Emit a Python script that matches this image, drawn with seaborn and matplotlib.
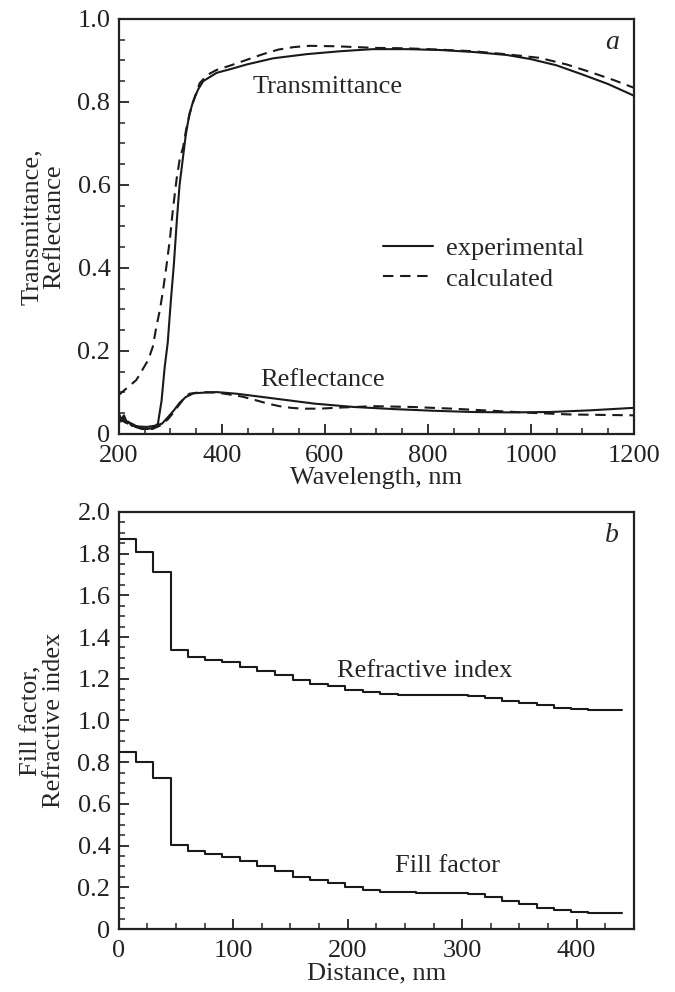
import numpy as np
import pandas as pd
import matplotlib
matplotlib.use("Agg")
import matplotlib.pyplot as plt
from matplotlib.ticker import MultipleLocator, FuncFormatter
from matplotlib.lines import Line2D
import seaborn as sns

# ---------------- data: panel a ----------------
t_exp_wl = [200, 205, 210, 215, 225, 240, 255, 268, 276, 283, 289, 295, 301, 307, 313, 318,
            324, 330, 337, 344, 354, 364, 377, 390, 420, 448, 500, 565, 630, 693, 760, 823,
            890, 953, 1000, 1050, 1100, 1150, 1200]
t_exp_val = [0.05, 0.035, 0.045, 0.03, 0.025, 0.015, 0.012, 0.015, 0.025, 0.08, 0.16, 0.22,
             0.32, 0.41, 0.52, 0.60, 0.66, 0.72, 0.77, 0.80, 0.83, 0.85, 0.86, 0.87, 0.88,
             0.89, 0.905, 0.915, 0.922, 0.927, 0.927, 0.925, 0.92, 0.913, 0.903, 0.888,
             0.866, 0.843, 0.815]

t_calc_wl = [200, 215, 234, 257, 266, 273, 280, 286, 292, 299, 305, 312, 318, 325, 331, 338,
             347, 357, 372, 390, 420, 450, 480, 510, 540, 570, 620, 700, 759, 820, 887, 950,
             1017, 1070, 1115, 1160, 1200]
t_calc_val = [0.094, 0.11, 0.13, 0.178, 0.21, 0.259, 0.30, 0.347, 0.40, 0.467, 0.54, 0.612,
              0.66, 0.692, 0.735, 0.773, 0.81, 0.845, 0.865, 0.877, 0.889, 0.902, 0.915,
              0.926, 0.932, 0.935, 0.934, 0.93, 0.929, 0.926, 0.922, 0.915, 0.906, 0.89,
              0.872, 0.853, 0.834]

r_exp_wl = [200, 204, 208, 212, 218, 225, 240, 255, 270, 284, 295, 307, 318, 330, 345, 370,
            390, 429, 467, 505, 581, 657, 734, 810, 886, 962, 1038, 1115, 1200]
r_exp_val = [0.045, 0.03, 0.04, 0.028, 0.03, 0.02, 0.018, 0.017, 0.02, 0.025, 0.04, 0.057,
             0.075, 0.089, 0.098, 0.10, 0.101, 0.097, 0.091, 0.085, 0.073, 0.065, 0.060,
             0.056, 0.053, 0.052, 0.053, 0.057, 0.063]

r_calc_wl = [200, 210, 225, 245, 265, 280, 295, 305, 314, 325, 337, 360, 385, 406, 440, 467,
             490, 512, 535, 558, 590, 619, 695, 772, 848, 924, 1000, 1077, 1200]
r_calc_val = [0.035, 0.03, 0.02, 0.012, 0.012, 0.02, 0.035, 0.05, 0.065, 0.083, 0.097, 0.101,
              0.10, 0.097, 0.09, 0.081, 0.073, 0.067, 0.063, 0.061, 0.061, 0.063, 0.067,
              0.065, 0.061, 0.056, 0.051, 0.047, 0.045]

# ---------------- data: panel b ----------------
layer_edges = [0, 15, 30, 45.5, 60.5, 75.5, 90.5, 105.5, 121, 136.5, 152, 167, 182.5, 198,
               213, 228.5, 244, 259.5, 274.5, 290, 305, 320, 335, 350, 365, 380, 395, 410,
               425, 440]
refr_index = [1.872, 1.808, 1.712, 1.338, 1.304, 1.289, 1.278, 1.258, 1.238, 1.218, 1.192,
              1.177, 1.165, 1.148, 1.134, 1.128, 1.124, 1.123, 1.122, 1.121, 1.117, 1.107,
              1.091, 1.082, 1.072, 1.062, 1.054, 1.051, 1.050]
fill_factor = [0.85, 0.80, 0.726, 0.404, 0.372, 0.359, 0.346, 0.325, 0.304, 0.279, 0.251,
               0.233, 0.222, 0.201, 0.185, 0.179, 0.176, 0.172, 0.171, 0.171, 0.166, 0.153,
               0.132, 0.118, 0.101, 0.089, 0.082, 0.079, 0.077]

# ---------------- style ----------------
sns.set_theme(style="ticks")
plt.rcParams["font.family"] = ["Liberation Serif", "DejaVu Serif"]
FS = 19
plt.rcParams.update({
    "font.size": FS,
    "axes.linewidth": 1.6,
    "xtick.direction": "in",
    "ytick.direction": "in",
    "xtick.major.size": 7,
    "ytick.major.size": 7,
    "xtick.minor.size": 4,
    "ytick.minor.size": 4,
    "xtick.major.width": 1.3,
    "ytick.major.width": 1.3,
    "xtick.minor.width": 1.1,
    "ytick.minor.width": 1.1,
    "xtick.major.pad": 8,
    "ytick.major.pad": 6,
    "xtick.color": "#222222",
    "ytick.color": "#222222",
    "axes.edgecolor": "#222222",
})

fig = plt.figure(figsize=(6.75, 9.92), dpi=100)
left, width = 0.176, 0.763
ax1 = fig.add_axes([left, 0.5625, width, 0.4185])
ax2 = fig.add_axes([left, 0.0635, width, 0.4205])

LC = "#1a1a1a"
LW = 1.5
DASH = (0, (5, 3.2))

def yfmt(v, pos):
    if abs(v) < 1e-9:
        return "0"
    return f"{v:.1f}"

# panel a
sns.lineplot(x=t_exp_wl, y=t_exp_val, ax=ax1, color=LC, lw=LW, estimator=None, sort=False)
sns.lineplot(x=t_calc_wl, y=t_calc_val, ax=ax1, color=LC, lw=LW, linestyle=DASH,
             estimator=None, sort=False)
sns.lineplot(x=r_exp_wl, y=r_exp_val, ax=ax1, color=LC, lw=LW, estimator=None, sort=False)
sns.lineplot(x=r_calc_wl, y=r_calc_val, ax=ax1, color=LC, lw=LW, linestyle=DASH,
             estimator=None, sort=False)

ax1.set_xlim(200, 1200)
ax1.set_ylim(0, 1.0)
ax1.xaxis.set_major_locator(MultipleLocator(200))
ax1.xaxis.set_minor_locator(MultipleLocator(50))
ax1.yaxis.set_major_locator(MultipleLocator(0.2))
ax1.yaxis.set_minor_locator(MultipleLocator(0.05))
ax1.yaxis.set_major_formatter(FuncFormatter(yfmt))
ax1.set_xlabel("Wavelength, nm", fontsize=FS, labelpad=0)
ax1.set_ylabel("Transmittance,\nReflectance", fontsize=FS, labelpad=9, linespacing=1.0)
ax1.text(605, 0.836, "Transmittance", fontsize=FS, ha="center", va="center")
ax1.text(596, 0.129, "Reflectance", fontsize=FS, ha="center", va="center")
ax1.text(1158, 0.942, "a", fontsize=FS + 1, style="italic", ha="center", va="center")

handles = [Line2D([], [], color=LC, lw=LW),
           Line2D([], [], color=LC, lw=LW, linestyle=DASH)]
ax1.legend(handles, ["experimental", "calculated"], frameon=False, loc="center left",
           bbox_to_anchor=(0.487, 0.41), fontsize=FS, handlelength=1.9,
           handletextpad=0.5, labelspacing=0.25, borderpad=0)

# panel b
step_x = layer_edges
refr_y = refr_index + [refr_index[-1]]
fill_y = fill_factor + [fill_factor[-1]]
sns.lineplot(x=step_x, y=refr_y, ax=ax2, color=LC, lw=LW, drawstyle="steps-post",
             estimator=None, sort=False)
sns.lineplot(x=step_x, y=fill_y, ax=ax2, color=LC, lw=LW, drawstyle="steps-post",
             estimator=None, sort=False)

ax2.set_xlim(0, 450)
ax2.set_ylim(0, 2.0)
ax2.xaxis.set_major_locator(MultipleLocator(100))
ax2.xaxis.set_minor_locator(MultipleLocator(25))
ax2.yaxis.set_major_locator(MultipleLocator(0.2))
ax2.yaxis.set_minor_locator(MultipleLocator(0.05))
ax2.yaxis.set_major_formatter(FuncFormatter(yfmt))
ax2.set_xlabel("Distance, nm", fontsize=FS, labelpad=0)
ax2.set_ylabel("Fill factor,\nRefractive index", fontsize=FS, labelpad=9, linespacing=1.0)
ax2.text(267, 1.237, "Refractive index", fontsize=FS, ha="center", va="center")
ax2.text(287, 0.30, "Fill factor", fontsize=FS, ha="center", va="center")
ax2.text(431, 1.885, "b", fontsize=FS + 1, style="italic", ha="center", va="center")

for ax in (ax1, ax2):
    ax.tick_params(which="both", top=False, right=False, labelsize=FS)
    for s in ax.spines.values():
        s.set_visible(True)

fig.savefig("out.png", dpi=100)
